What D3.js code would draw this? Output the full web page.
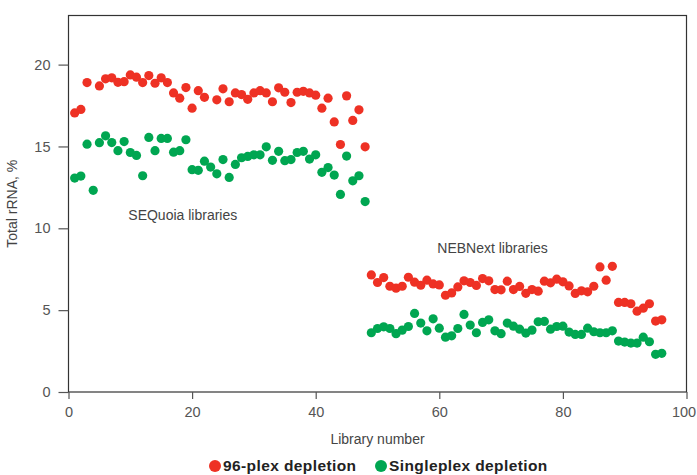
<!DOCTYPE html>
<html>
<head>
<meta charset="utf-8">
<script src="https://cdn.jsdelivr.net/npm/d3@7"></script>
<style>
	body { margin: 0; background: #fff; }
	svg text { font-family: "Liberation Sans", Arial, sans-serif; }
</style>
</head>
<body>
<div id="chart"></div>
<script>
// library numbers and values
var plexLib = [1,2,3,5,6,7,8,9,10,11,12,13,14,15,16,17,18,19,20,21,22,24,25,26,27,28,29,30,31,32,33,34,35,36,37,38,39,40,41,42,43,44,45,46,47,48,
	49,50,51,52,53,54,55,56,57,58,59,60,61,62,63,64,65,66,67,68,69,70,71,72,73,74,75,76,77,78,79,80,81,82,83,84,85,86,87,88,89,90,91,92,93,94,95,96];
var plexVal = [17.05,17.26,18.9,18.7,19.13,19.19,18.92,18.96,19.37,19.23,18.9,19.33,18.86,19.19,18.9,18.27,17.95,18.6,17.34,18.41,18.0,17.85,18.52,17.73,18.27,18.17,17.88,18.27,18.41,18.27,17.73,18.58,18.31,17.68,18.31,18.37,18.27,18.13,17.34,17.95,16.5,15.12,18.09,16.59,17.24,14.98,
	7.15,6.69,6.99,6.46,6.34,6.46,7.01,6.71,6.52,6.83,6.6,6.54,5.91,6.05,6.42,6.79,6.69,6.51,6.93,6.79,6.26,6.24,6.77,6.26,6.45,6.03,6.26,6.16,6.77,6.67,6.89,6.73,6.48,6.02,6.18,6.12,6.46,7.64,6.83,7.68,5.47,5.47,5.39,4.94,5.12,5.39,4.33,4.41];

var singleLib = [1,2,3,4,5,6,7,8,9,10,11,12,13,14,15,16,17,18,19,20,21,22,23,24,25,26,27,28,29,30,31,32,33,34,35,36,37,38,39,40,41,42,43,44,45,46,47,48,
	49,50,51,52,53,54,55,56,57,58,59,60,61,62,63,64,65,66,67,68,69,70,71,72,73,74,75,76,77,78,79,80,81,82,83,84,85,86,87,88,89,90,91,92,93,94,95,96];
var singleVal = [13.07,13.19,15.14,12.32,15.23,15.65,15.24,14.74,15.3,14.63,14.45,13.21,15.55,14.74,15.49,15.49,14.65,14.74,15.41,13.58,13.54,14.1,13.74,13.33,14.2,13.11,13.9,14.31,14.39,14.49,14.49,14.98,14.15,14.7,14.13,14.2,14.63,14.7,14.23,14.49,13.42,13.71,13.25,12.07,14.41,12.9,13.21,11.63,
	3.62,3.88,3.98,3.88,3.56,3.78,4.0,4.8,4.21,3.74,4.47,3.9,3.35,3.43,3.88,4.74,4.09,3.62,4.25,4.41,3.74,3.56,4.21,4.02,3.84,3.6,3.78,4.29,4.31,3.84,4.0,4.02,3.66,3.52,3.52,3.9,3.68,3.62,3.62,3.74,3.11,3.05,2.99,2.99,3.35,3.07,2.3,2.36];

var xTicks = [0, 20, 40, 60, 80, 100];
var yTicks = [0, 5, 10, 15, 20];
var seriesNames = ["96-plex depletion", "Singleplex depletion"];
var seriesColors = ["#ee3124", "#00a651"];
var groupLabels = ["SEQuoia libraries", "NEBNext libraries"];
var groupPos = [[10, 10.5], [60, 8.5]];

var width = 697,
	height = 475,
	margin = {left: 68.5, right: 10.5, top: 15.5, bottom: 83};

var svg = d3.select("#chart")
	.append("svg")
	.attr("width", width)
	.attr("height", height);

var x = d3.scaleLinear()
	.domain([0, 100])
	.range([margin.left, width - margin.right]);

var y = d3.scaleLinear()
	.domain([0, 23])
	.range([height - margin.bottom, margin.top]);

// frame
svg.append("rect")
	.attr("x", x(0))
	.attr("y", y(23))
	.attr("width", x(100) - x(0))
	.attr("height", y(0) - y(23))
	.attr("fill", "none")
	.attr("stroke", "#333")
	.attr("stroke-width", 1.2);

var xAxis = svg.append("g")
	.attr("transform", "translate(0," + y(0) + ")")
	.call(d3.axisBottom(x).tickValues(xTicks).tickSize(7).tickPadding(8));

var yAxis = svg.append("g")
	.attr("transform", "translate(" + x(0) + ",0)")
	.call(d3.axisLeft(y).tickValues(yTicks).tickSize(10).tickPadding(8));

[xAxis, yAxis].forEach(function (g) {
	g.select(".domain").remove();
	g.selectAll("line").attr("stroke", "#555").attr("stroke-width", 1.2);
	g.selectAll("text")
		.attr("fill", "#555")
		.style("font-size", "14.5px");
});

// keep the last x label inside the page
xAxis.selectAll("text")
	.filter(function (d) { return d === 100; })
	.attr("dx", "-3");

svg.append("text")
	.attr("x", (x(0) + x(100)) / 2)
	.attr("y", 444)
	.attr("text-anchor", "middle")
	.attr("fill", "#444")
	.style("font-size", "14px")
	.text("Library number");

svg.append("text")
	.attr("transform", "translate(17," + y(11.5) + ") rotate(-90)")
	.attr("text-anchor", "middle")
	.attr("fill", "#444")
	.style("font-size", "14px")
	.text("Total rRNA, %");

svg.selectAll(".glabel")
	.data(groupLabels)
	.join("text")
	.attr("class", "glabel")
	.attr("x", function (d, i) { return x(groupPos[i][0]) - 2; })
	.attr("y", function (d, i) { return y(groupPos[i][1]); })
	.attr("fill", "#444")
	.style("font-size", "14px")
	.text(function (d) { return d; });

var series = [
	{lib: plexLib, val: plexVal},
	{lib: singleLib, val: singleVal}
];

series.forEach(function (s, k) {
	svg.append("g")
		.selectAll("circle")
		.data(s.val)
		.join("circle")
		.attr("cx", function (d, i) { return x(s.lib[i]); })
		.attr("cy", function (d) { return y(d); })
		.attr("r", 4.6)
		.attr("fill", seriesColors[k]);
});

// legend
var legend = svg.append("g")
	.attr("transform", "translate(0,466)");

var lx = [215, 381];
seriesNames.forEach(function (name, i) {
	legend.append("circle")
		.attr("cx", lx[i])
		.attr("cy", 0)
		.attr("r", 6)
		.attr("fill", seriesColors[i]);
	legend.append("text")
		.attr("x", lx[i] + 8)
		.attr("y", 5)
		.attr("fill", "#222")
		.style("font-size", "15.5px")
		.style("font-weight", "bold")
		.style("letter-spacing", "0.4px")
		.text(name);
});
</script>
</body>
</html>
